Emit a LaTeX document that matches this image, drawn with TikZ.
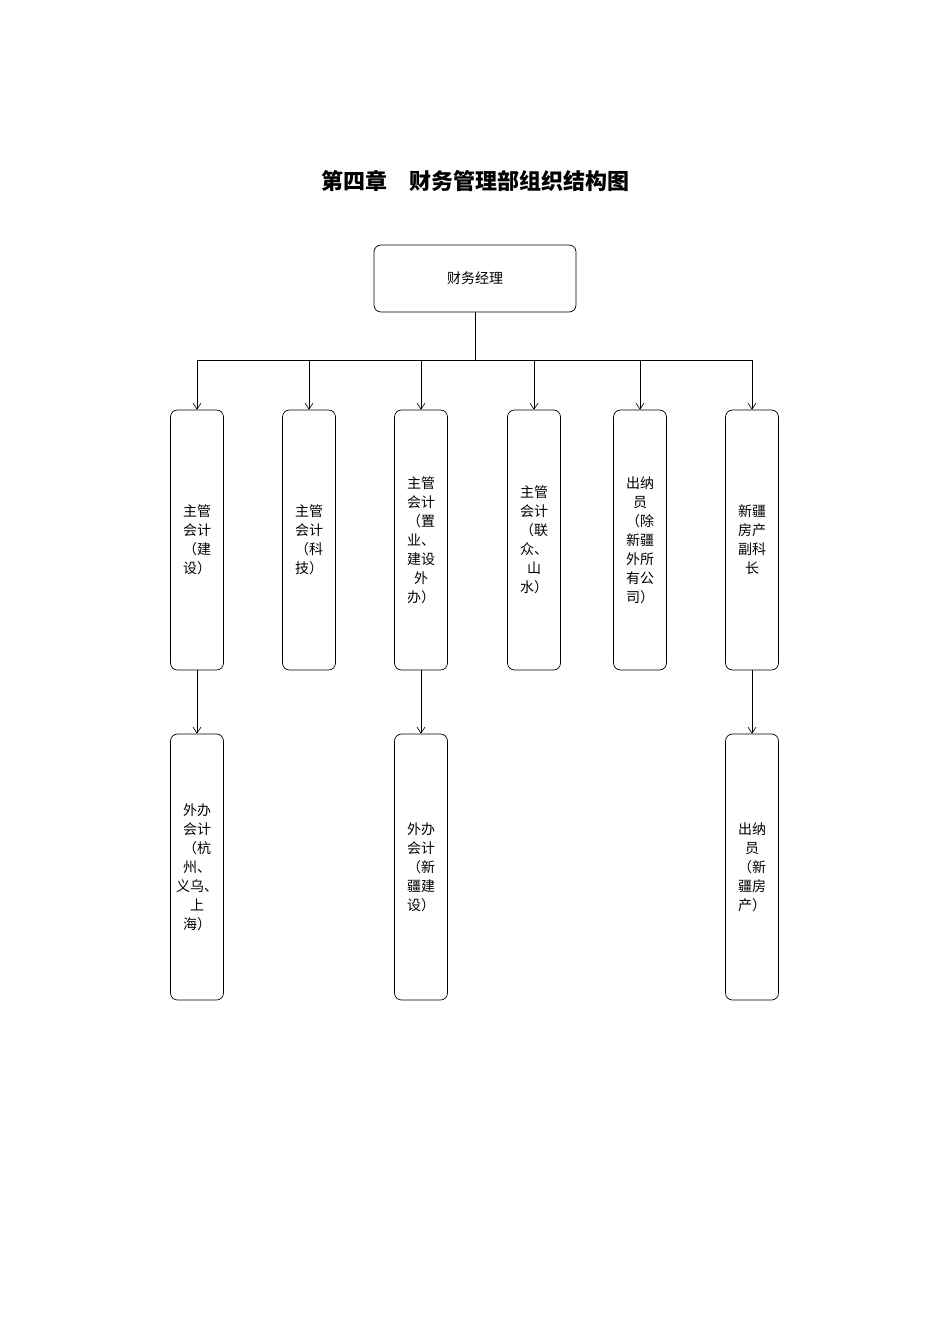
\documentclass[tikz,border=0pt]{standalone}
\usepackage{fontspec}
\newfontfamily\cjk{Noto Sans CJK SC}
\usetikzlibrary{arrows.meta}
\begin{document}
\begin{tikzpicture}[x=1pt,y=-1pt,
  box/.style={draw,rounded corners=7pt,line width=0.7pt,font=\cjk\fontsize{14}{19}\selectfont,align=center,inner sep=0pt},
  arr/.style={-{Straight Barb[length=6pt,width=8pt]},line width=0.6pt},
  ln/.style={line width=0.7pt}]
\useasboundingbox (0,0) rectangle (950,1344);
\node[font=\cjk\bfseries\fontsize{22}{26}\selectfont] (title) at (475,181) {第四章\quad 财务管理部组织结构图};
\node[box,minimum width=202pt,minimum height=67pt] (top) at (475,278.5) {财务经理};
\coordinate (j) at (475,360);
\draw[ln] (top.south) -- (j);
\foreach \n/\x/\t in {a/197/{主管\\会计\\（建\\设）},b/309/{主管\\会计\\（科\\技）},c/421/{主管\\会计\\（置\\业、\\建设\\外\\办）},d/534/{主管\\会计\\（联\\众、\\山\\水）},e/640/{出纳\\员\\（除\\新疆\\外所\\有公\\司）},f/752/{新疆\\房产\\副科\\长}}{
  \node[box,minimum width=53pt,minimum height=260pt] (\n) at (\x,540) {\t};
  \coordinate (h\n) at (\x,360);
  \draw[arr] (h\n) -- (\n.north);
}
\draw[ln] (ha) -- (hf);
\foreach \p/\n/\x/\t in {a/ga/197/{外办\\会计\\（杭\\州、\\义乌、\\上\\海）},c/gc/421/{外办\\会计\\（新\\疆建\\设）},f/gf/752/{出纳\\员\\（新\\疆房\\产）}}{
  \node[box,minimum width=53pt,minimum height=266pt] (\n) at (\x,867) {\t};
  \draw[arr] (\p.south) -- (\n.north);
}
\end{tikzpicture}
\end{document}
